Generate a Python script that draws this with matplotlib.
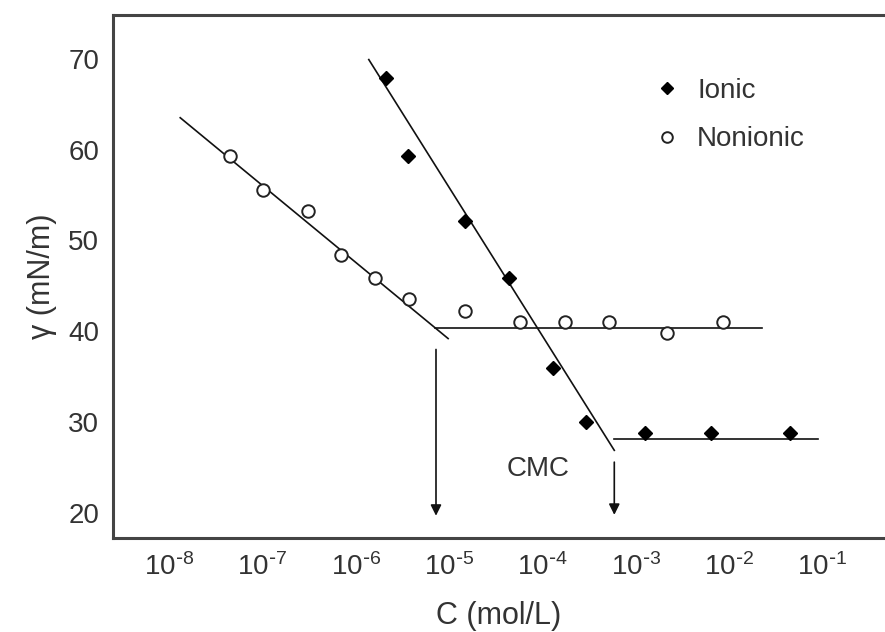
import matplotlib
matplotlib.use("Agg")
import matplotlib.pyplot as plt
import numpy as np

plt.rcParams['font.family'] = ['Liberation Sans', 'DejaVu Sans']
plt.rcParams['mathtext.default'] = 'regular'

# Data (log10 of concentration, surface tension)
nonionic_logc = [-7.35, -6.99, -6.51, -6.16, -5.79, -5.43, -4.83, -4.24, -3.76, -3.29, -2.67, -2.07]
nonionic_gamma = [59.3, 55.6, 53.2, 48.4, 45.9, 43.5, 42.2, 41.0, 41.0, 41.0, 39.8, 41.0]
ionic_logc = [-5.68, -5.44, -4.83, -4.36, -3.89, -3.53, -2.90, -2.19, -1.35]
ionic_gamma = [67.9, 59.3, 52.1, 45.9, 36.0, 30.0, 28.8, 28.8, 28.8]

# fitted lines: (logc start, logc end), (gamma start, gamma end)
nonionic_fit = ([-7.88, -5.01], [63.5, 39.2])
nonionic_plateau = ([-5.15, -1.65], [40.4, 40.4])
ionic_fit = ([-5.86, -3.23], [69.9, 26.9])
ionic_plateau = ([-3.23, -1.05], [28.2, 28.2])

# CMC arrows: logc, gamma start, gamma end
arrows = [(-5.14, 38.0, 19.7), (-3.23, 25.6, 19.8)]

x_ticks = [-8, -7, -6, -5, -4, -3, -2, -1]
y_ticks = [20, 30, 40, 50, 60, 70]

text_col = '#333333'

fig = plt.figure(figsize=(8.85, 6.32), dpi=100)
ax = fig.add_axes([0.1277, 0.1487, 0.8723, 0.8275])

for xs, ys in [nonionic_fit, nonionic_plateau, ionic_fit, ionic_plateau]:
    ax.plot(xs, ys, color='#111111', lw=1.2)

ax.plot(ionic_logc, ionic_gamma, 'D', color='black', ms=7, ls='none', label='Ionic')
ax.plot(nonionic_logc, nonionic_gamma, 'o', mfc='white', mec='#222222', mew=1.4,
        ms=9, ls='none', label='Nonionic')

for xa, y0, y1 in arrows:
    ax.annotate('', xy=(xa, y1), xytext=(xa, y0),
                arrowprops=dict(arrowstyle='-|>', color='#111111', lw=1.2,
                                mutation_scale=16, shrinkA=0, shrinkB=0))

ax.text(-4.05, 24.8, 'CMC', fontsize=20, color=text_col, ha='center', va='center')

ax.set_xlim(-8.60, -0.33)
ax.set_ylim(17.25, 74.8)
ax.set_xticks(x_ticks)
ax.set_xticklabels([r'$10^{\text{-}%d}$' % abs(t) for t in x_ticks])
ax.set_yticks(y_ticks)
ax.tick_params(length=0, labelsize=20, labelcolor=text_col)
ax.tick_params(axis='x', pad=11)
ax.tick_params(axis='y', pad=10)

for s in ['left', 'top', 'bottom']:
    ax.spines[s].set_linewidth(2.2)
    ax.spines[s].set_color('#444444')
ax.spines['right'].set_visible(False)

ax.set_xlabel('C (mol/L)', fontsize=22, color=text_col, labelpad=14)
ax.set_ylabel('γ (mN/m)', fontsize=22, color=text_col, labelpad=8)

leg = ax.legend(loc='upper left', bbox_to_anchor=(0.663, 0.927), frameon=False,
                fontsize=20, handletextpad=0.5, labelspacing=0.8, handlelength=1.2,
                markerscale=0.85)
for t in leg.get_texts():
    t.set_color(text_col)

fig.savefig('out.png', dpi=100)
